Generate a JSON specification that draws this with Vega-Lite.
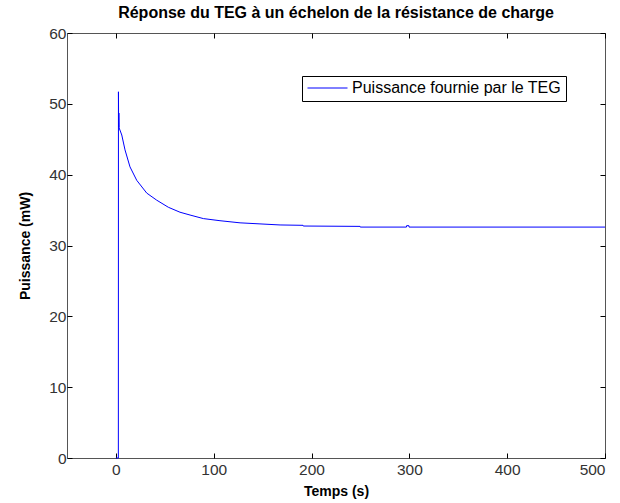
{
  "$schema": "https://vega.github.io/schema/vega-lite/v6.json",
  "width": 538,
  "height": 425,
  "autosize": {"type": "none"},
  "padding": {"left": 67, "top": 33, "right": 15, "bottom": 45},
  "background": "white",
  "title": {"text": "Réponse du TEG à un échelon de la résistance de charge", "font": "Liberation Sans", "fontSize": 16, "fontWeight": "bold", "color": "#000000", "offset": 5, "anchor": "middle"},
  "config": {
    "view": {"stroke": "#555555", "strokeWidth": 1},
    "axis": {"labelFont": "Liberation Sans", "labelFontSize": 15.5, "labelColor": "#333333", "titleFont": "Liberation Sans", "titleFontSize": 14, "titleFontWeight": "bold", "titleColor": "#000000", "grid": false, "domain": false, "tickColor": "#000000", "tickSize": -5}
  },
  "data": {"values": [
    {"t": 0, "p": 0, "s": "Puissance fournie par le TEG"},
    {"t": 2.5, "p": 0, "s": "Puissance fournie par le TEG"},
    {"t": 2.6, "p": 51.7, "s": "Puissance fournie par le TEG"},
    {"t": 2.8, "p": 46.7, "s": "Puissance fournie par le TEG"},
    {"t": 3.0, "p": 48.7, "s": "Puissance fournie par le TEG"},
    {"t": 3.3, "p": 46.6, "s": "Puissance fournie par le TEG"},
    {"t": 6, "p": 45.6, "s": "Puissance fournie par le TEG"},
    {"t": 9.3, "p": 43.5, "s": "Puissance fournie par le TEG"},
    {"t": 14.4, "p": 41.1, "s": "Puissance fournie par le TEG"},
    {"t": 21.3, "p": 39.2, "s": "Puissance fournie par le TEG"},
    {"t": 31.5, "p": 37.4, "s": "Puissance fournie par le TEG"},
    {"t": 41.7, "p": 36.4, "s": "Puissance fournie par le TEG"},
    {"t": 53.6, "p": 35.4, "s": "Puissance fournie par le TEG"},
    {"t": 65.5, "p": 34.7, "s": "Puissance fournie par le TEG"},
    {"t": 75.8, "p": 34.3, "s": "Puissance fournie par le TEG"},
    {"t": 89.4, "p": 33.8, "s": "Puissance fournie par le TEG"},
    {"t": 106.4, "p": 33.5, "s": "Puissance fournie par le TEG"},
    {"t": 126.9, "p": 33.2, "s": "Puissance fournie par le TEG"},
    {"t": 147.3, "p": 33.05, "s": "Puissance fournie par le TEG"},
    {"t": 167.8, "p": 32.9, "s": "Puissance fournie par le TEG"},
    {"t": 191.3, "p": 32.85, "s": "Puissance fournie par le TEG"},
    {"t": 191.5, "p": 32.75, "s": "Puissance fournie par le TEG"},
    {"t": 249.6, "p": 32.7, "s": "Puissance fournie par le TEG"},
    {"t": 249.8, "p": 32.6, "s": "Puissance fournie par le TEG"},
    {"t": 297, "p": 32.6, "s": "Puissance fournie par le TEG"},
    {"t": 297.2, "p": 32.8, "s": "Puissance fournie par le TEG"},
    {"t": 299.5, "p": 32.8, "s": "Puissance fournie par le TEG"},
    {"t": 299.7, "p": 32.6, "s": "Puissance fournie par le TEG"},
    {"t": 500, "p": 32.6, "s": "Puissance fournie par le TEG"}
  ]},
  "layer": [
    {
      "mark": {"type": "line", "strokeWidth": 1, "interpolate": "linear"},
      "encoding": {
        "x": {"field": "t", "type": "quantitative", "scale": {"domain": [-50, 500], "nice": false, "zero": false}, "axis": {"title": "Temps (s)", "values": [0, 100, 200, 300, 400, 500], "labelPadding": 9, "titlePadding": 7}},
        "y": {"field": "p", "type": "quantitative", "scale": {"domain": [0, 60], "nice": false}, "axis": {"title": "Puissance (mW)", "values": [0, 10, 20, 30, 40, 50, 60], "labelPadding": 6, "titlePadding": 16}},
        "color": {"field": "s", "type": "nominal", "scale": {"range": ["#0000ff"]}, "legend": {"title": null, "orient": "none", "legendX": 235, "legendY": 43, "symbolType": "stroke", "symbolSize": 1600, "symbolStrokeWidth": 1, "clipHeight": 14, "fillColor": "white", "strokeColor": "#000000", "padding": 5, "labelFont": "Liberation Sans", "labelFontSize": 16, "labelColor": "#000000", "labelOffset": 4, "labelLimit": 0}}
      }
    },
    {
      "mark": {"type": "line", "opacity": 0},
      "encoding": {
        "x": {"field": "t", "type": "quantitative", "axis": {"orient": "top", "title": null, "labels": false, "values": [0, 100, 200, 300, 400, 500]}},
        "y": {"field": "p", "type": "quantitative", "axis": {"orient": "right", "title": null, "labels": false, "values": [0, 10, 20, 30, 40, 50, 60]}}
      }
    }
  ],
  "resolve": {"axis": {"x": "independent", "y": "independent"}}
}
